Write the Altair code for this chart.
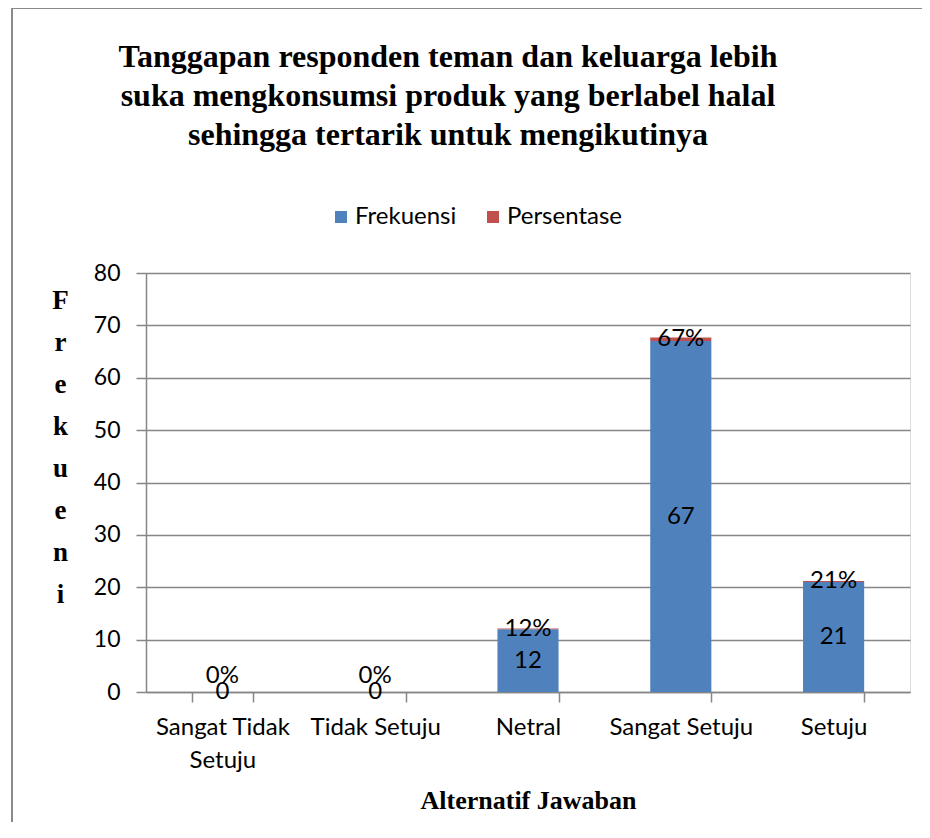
import altair as alt
import pandas as pd

categories = ["Sangat Tidak Setuju", "Tidak Setuju", "Netral", "Sangat Setuju", "Setuju"]
frekuensi = [0, 0, 12, 67, 21]
persentase = [0.0, 0.0, 0.12, 0.67, 0.21]
series_names = ["Frekuensi", "Persentase"]
colors = ["#4F81BD", "#C0504D"]
y_ticks = [0, 10, 20, 30, 40, 50, 60, 70, 80]

rows = []
for c, f, p in zip(categories, frekuensi, persentase):
    rows.append({"cat": c, "series": "Frekuensi", "value": f, "ord": 0})
    rows.append({"cat": c, "series": "Persentase", "value": p, "ord": 1})
df = pd.DataFrame(rows)

lab = pd.DataFrame({
    "cat": categories,
    "f": frekuensi,
    "p": persentase,
})
lab["f_mid"] = lab["f"] / 2
lab["p_mid"] = lab["f"] + lab["p"] / 2
lab["f_txt"] = lab["f"].astype(int).astype(str)
lab["p_txt"] = (lab["p"] * 100).round().astype(int).astype(str) + "%"

FONT = "Lato"
SERIF = "Liberation Serif"
GRID = "#868686"

xenc = alt.X(
    "cat:N",
    sort=categories,
    scale=alt.Scale(paddingInner=0.6, paddingOuter=0.3),
    axis=alt.Axis(
        title="Alternatif Jawaban",
        titleFont=SERIF, titleFontSize=26, titleFontWeight="bold", titleColor="black",
        titleY=116, titleBaseline="alphabetic",
        labelAngle=0, labelFont=FONT, labelFontSize=24, labelColor="black",
        labelPadding=13, labelLineHeight=33,
        labelExpr="datum.value == 'Sangat Tidak Setuju' ? ['Sangat Tidak', 'Setuju'] : datum.value",
        tickBand="extent", tickSize=10, tickColor=GRID, tickWidth=1.5,
        domainColor=GRID, domainWidth=1.5, grid=False,
    ),
)

bars = alt.Chart(df).mark_bar(opacity=1).encode(
    x=xenc,
    y=alt.Y(
        "value:Q",
        stack="zero",
        scale=alt.Scale(domain=[0, 80], nice=False),
        axis=alt.Axis(
            values=y_ticks,
            title=["F", "r", "e", "k", "u", "e", "n", "i"],
            titleAngle=0, titleAlign="center", titleBaseline="top",
            titleX=-86, titleY=14, titleLineHeight=42,
            titleFont=SERIF, titleFontSize=27, titleFontWeight="bold", titleColor="black",
            labelFont=FONT, labelFontSize=23, labelColor="black", labelPadding=16,
            tickSize=10, tickColor=GRID, tickWidth=1.5,
            domainColor=GRID, domainWidth=1.5,
            grid=True, gridColor=GRID, gridWidth=1.5,
        ),
    ),
    color=alt.Color(
        "series:N",
        scale=alt.Scale(domain=series_names, range=colors),
        legend=alt.Legend(
            title=None, orient="none", direction="horizontal",
            legendX=183, legendY=-68,
            symbolType="square", symbolSize=144, symbolStrokeWidth=0,
            labelFont=FONT, labelFontSize=24, labelColor="black",
            labelOffset=2, columnPadding=24,
        ),
    ),
    order=alt.Order("ord:Q"),
)

base_lab = alt.Chart(lab)
f_text = base_lab.mark_text(font=FONT, fontSize=24, color="black", baseline="middle").encode(
    x=alt.X("cat:N", sort=categories), y=alt.Y("f_mid:Q"), text="f_txt:N"
)
p_text = base_lab.transform_filter("datum.p > 0").mark_text(
    font=FONT, fontSize=24, color="black", baseline="middle"
).encode(x=alt.X("cat:N", sort=categories), y=alt.Y("p_mid:Q"), text="p_txt:N")
p_text0 = base_lab.transform_filter("datum.p == 0").mark_text(
    font=FONT, fontSize=24, color="black", baseline="middle", dy=-16
).encode(x=alt.X("cat:N", sort=categories), y=alt.Y("p_mid:Q"), text="p_txt:N")

border = alt.Chart(pd.DataFrame({"k": [0]})).mark_rect(
    fill="transparent", stroke="#8a8a8a", strokeWidth=2
).encode(
    x=alt.value(-134), x2=alt.value(1200), y=alt.value(-265), y2=alt.value(1200)
)

chart = alt.layer(border, bars, f_text, p_text, p_text0).properties(
    width=764,
    height=419,
    autosize=alt.AutoSizeParams(type="none"),
    padding={"left": 138, "top": 265, "right": 12, "bottom": 130},
    title=alt.TitleParams(
        text=[
            "Tanggapan responden teman dan keluarga lebih",
            "suka mengkonsumsi produk yang berlabel halal",
            "sehingga tertarik untuk mengikutinya",
        ],
        font=SERIF, fontSize=32, fontWeight="bold", color="black",
        anchor="middle", frame="group", dx=-80, offset=-145, lineHeight=39,
    ),
).configure_view(stroke=None).configure(background="white")

chart.save("out.html", embed_options={"renderer": "svg", "actions": False})
